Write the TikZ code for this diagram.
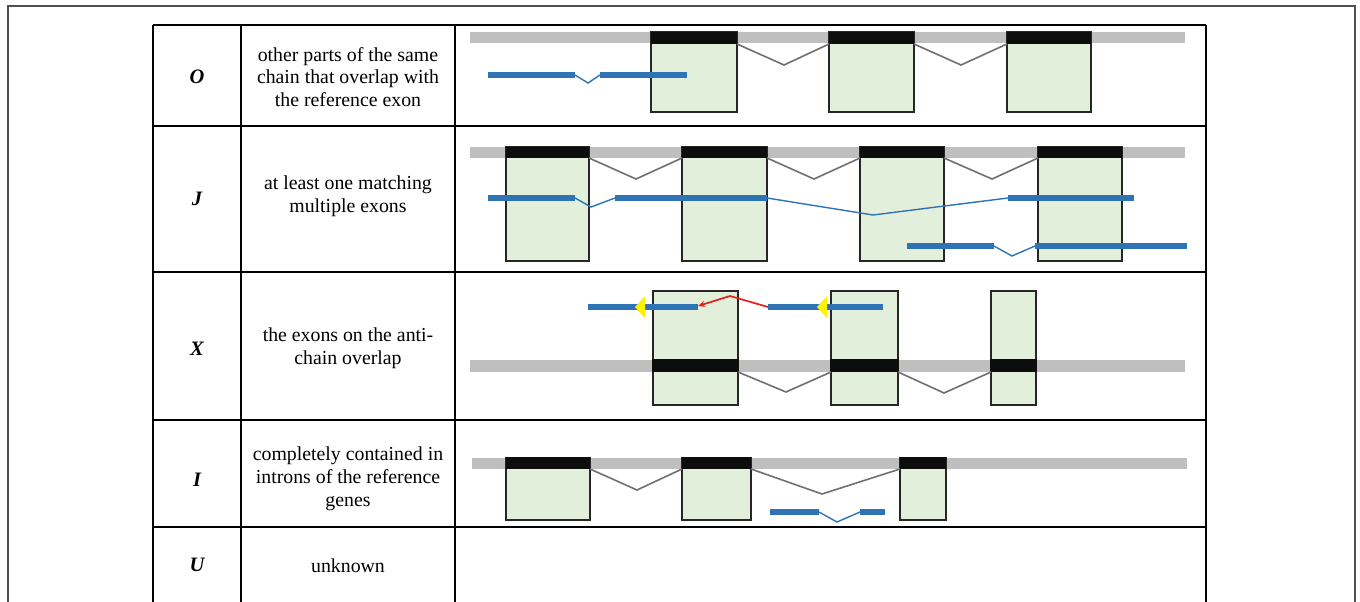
\documentclass[tikz,border=0pt]{standalone}
\usepackage{fontspec}
\setmainfont{Liberation Serif}
\usetikzlibrary{arrows.meta}
\definecolor{bargray}{HTML}{BFBFBF}
\definecolor{exgreen}{HTML}{E2EFDA}
\definecolor{introngray}{HTML}{707070}
\definecolor{readblue}{HTML}{2E74B5}
\definecolor{framegray}{HTML}{505050}
\definecolor{arrowred}{HTML}{E8201C}
\tikzset{
  bar/.style={fill=bargray},
  exonbox/.style={fill=exgreen, draw=black!85, line width=1.3},
  band/.style={fill=black!95},
  intron/.style={draw=introngray, line width=1.6},
  readseg/.style={draw=readblue, line width=6.5},
  junction/.style={draw=readblue, line width=1.4},
  tableline/.style={draw=black, line width=2.5},
  desc/.style={font=\fontsize{19.8}{22.8}\selectfont, align=center},
  code/.style={font=\fontsize{20.5}{24}\selectfont\bfseries\itshape},
}
\begin{document}
\begin{tikzpicture}[x=1pt,y=-1pt]
\useasboundingbox (0,0) rectangle (1360,602);
\clip (0,0) rectangle (1360,602);
\fill[white] (0,0) rectangle (1360,602);
% outer frame
\draw[framegray, line width=1.5] (8,610) -- (8,6) -- (1355,6) -- (1355,610);
% table
\foreach \yy in {25,126,272,420,527} \draw[tableline] (153,\yy) -- (1206,\yy);
\foreach \xx in {153,241,455,1206} \draw[tableline] (\xx,25) -- (\xx,610);
% texts
\node[code] (cO) at (197,77) {O};
\node[code] (cJ) at (197,199) {J};
\node[code] (cX) at (197,349) {X};
\node[code] (cI) at (197,480) {I};
\node[code] (cU) at (197,565) {U};
\node[desc] (dO) at (348,77) {other parts of the same\\chain that overlap with\\the reference exon};
\node[desc] (dJ) at (348,196) {at least one matching\\multiple exons};
\node[desc] (dX) at (348,348) {the exons on the anti-\\chain overlap};
\node[desc] (dI) at (348,479) {completely contained in\\introns of the reference\\genes};
\node[desc] (dU) at (348,566) {unknown};

% ---------- Row O ----------
\fill[bar] (470,32) rectangle (1185,43);
\foreach \a/\b in {651/737,829/914,1007/1091}{
  \filldraw[exonbox] (\a,32) rectangle (\b,112);
  \fill[band] (\a,32) rectangle (\b,44);
}
\draw[intron] (737,44) -- (784,65) -- (829,44);
\draw[intron] (914,44) -- (961,65) -- (1007,44);
\draw[readseg] (488,75) -- (575,75);
\draw[junction] (575,75) -- (588,83) -- (600,75);
\draw[readseg] (600,75) -- (687,75);

% ---------- Row J ----------
\fill[bar] (470,147) rectangle (1185,158);
\foreach \a/\b in {506/589,682/767,860/944,1038/1122}{
  \filldraw[exonbox] (\a,147) rectangle (\b,261);
  \fill[band] (\a,147) rectangle (\b,158);
}
\draw[intron] (589,158) -- (636,179) -- (682,158);
\draw[intron] (767,158) -- (814,179) -- (860,158);
\draw[intron] (944,158) -- (992,179) -- (1038,158);
\draw[readseg] (488,198) -- (575,198);
\draw[junction] (575,198) -- (591,207) -- (615,198);
\draw[readseg] (615,198) -- (767,198);
\draw[junction] (767,198) -- (873,215) -- (1008,198);
\draw[readseg] (1008,198) -- (1134,198);
\draw[readseg] (907,246) -- (994,246);
\draw[junction] (994,246) -- (1012,256) -- (1035,246);
\draw[readseg] (1035,246) -- (1187,246);

% ---------- Row X ----------
\fill[bar] (470,360) rectangle (1185,372);
\foreach \a/\b in {653/738,831/898,991/1036}{
  \filldraw[exonbox] (\a,291) rectangle (\b,405);
  \fill[band] (\a-1,359) rectangle (\b+1,372);
}
\draw[intron] (738,372) -- (786,392) -- (831,372);
\draw[intron] (898,372) -- (944,393) -- (991,372);
\draw[readseg] (588,307) -- (698,307);
\draw[readseg] (768,307) -- (883,307);
\fill[yellow] (635,307) -- (645,296) -- (645,318) -- cycle;
\fill[yellow] (817,307) -- (827,296) -- (827,318) -- cycle;
\draw[arrowred, line width=1.7, -{Stealth[length=7pt,width=6pt]}] (768,307) -- (730,296) -- (698,306);

% ---------- Row I ----------
\fill[bar] (472,458) rectangle (1187,469);
\foreach \a/\b in {506/590,682/751,900/946}{
  \filldraw[exonbox] (\a,458) rectangle (\b,520);
  \fill[band] (\a,457) rectangle (\b,469);
}
\draw[intron] (590,469) -- (637,490) -- (682,469);
\draw[intron] (751,469) -- (822,494) -- (900,469);
\draw[readseg] (770,512) -- (819,512);
\draw[junction] (819,512) -- (837,522) -- (860,512);
\draw[readseg] (860,512) -- (885,512);
\end{tikzpicture}
\end{document}
